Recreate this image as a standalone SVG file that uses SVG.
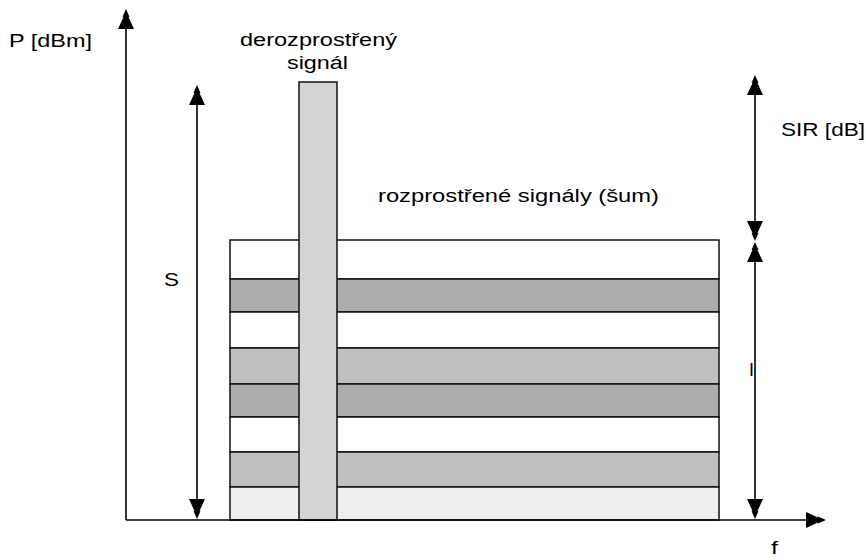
<svg xmlns="http://www.w3.org/2000/svg" width="866" height="560" viewBox="0 0 866 560">
  <style>
    .lbl { font-family: "Liberation Sans", Arial, sans-serif; font-size: 18px; fill: #000; }
    .band { stroke: #111; stroke-width: 1.5; }
    .axis { stroke: #000; stroke-width: 1.6; fill: none; }
  </style>
  <defs>
    <!-- stepped arrowhead, tip at origin, pointing up -->
    <path id="head" d="M0,0 L-3.5,8 L-2.5,8 L-8,20 L8,20 L2.5,8 L3.5,8 Z" fill="#000"/>
  </defs>
  <rect width="866" height="560" fill="#fff"/>

  <!-- noise bands -->
  <g id="noise">
    <rect class="band" x="230" y="240" width="489" height="39" fill="#ffffff"/>
    <rect class="band" x="230" y="279" width="489" height="33" fill="#adadad"/>
    <rect class="band" x="230" y="312" width="489" height="36" fill="#ffffff"/>
    <rect class="band" x="230" y="348" width="489" height="36" fill="#c0c0c0"/>
    <rect class="band" x="230" y="384" width="489" height="33" fill="#adadad"/>
    <rect class="band" x="230" y="417" width="489" height="35" fill="#ffffff"/>
    <rect class="band" x="230" y="452" width="489" height="35" fill="#c0c0c0"/>
    <rect class="band" x="230" y="487" width="489" height="33" fill="#efefef"/>
  </g>

  <!-- despread signal column -->
  <g id="signal">
    <rect class="band" x="299" y="82" width="38" height="438" fill="#d4d4d4"/>
  </g>

  <!-- axes and dimension arrows -->
  <g id="connectors">
    <line class="axis" x1="126" y1="520" x2="126" y2="18"/>
    <use href="#head" transform="translate(126,9)"/>
    <line class="axis" x1="126" y1="520" x2="816" y2="520"/>
    <use href="#head" transform="translate(826,520) rotate(90)"/>

    <line class="axis" x1="197" y1="96" x2="197" y2="508"/>
    <use href="#head" transform="translate(197,85)"/>
    <use href="#head" transform="translate(197,519) rotate(180)"/>

    <line class="axis" x1="755" y1="86" x2="755" y2="230"/>
    <use href="#head" transform="translate(755,75)"/>
    <use href="#head" transform="translate(755,241) rotate(180)"/>
    <line class="axis" x1="755" y1="252" x2="755" y2="508"/>
    <use href="#head" transform="translate(755,242)"/>
    <use href="#head" transform="translate(755,519) rotate(180)"/>
  </g>

  <!-- labels (wide set type) -->
  <g id="labels">
    <text class="lbl" x="9" y="47" textLength="83" lengthAdjust="spacingAndGlyphs">P [dBm]</text>
    <text class="lbl" x="240" y="46" textLength="157" lengthAdjust="spacingAndGlyphs">derozprostřený</text>
    <text class="lbl" x="287" y="69" textLength="61" lengthAdjust="spacingAndGlyphs">signál</text>
    <text class="lbl" x="378" y="202" textLength="281" lengthAdjust="spacingAndGlyphs">rozprostřené signály (šum)</text>
    <text class="lbl" x="781" y="136" textLength="84" lengthAdjust="spacingAndGlyphs">SIR [dB]</text>
    <text class="lbl" x="164" y="286" textLength="15" lengthAdjust="spacingAndGlyphs">S</text>
    <text class="lbl" x="749" y="376" textLength="5" lengthAdjust="spacingAndGlyphs">I</text>
    <text class="lbl" x="771" y="554" textLength="7" lengthAdjust="spacingAndGlyphs">f</text>
  </g>
</svg>
